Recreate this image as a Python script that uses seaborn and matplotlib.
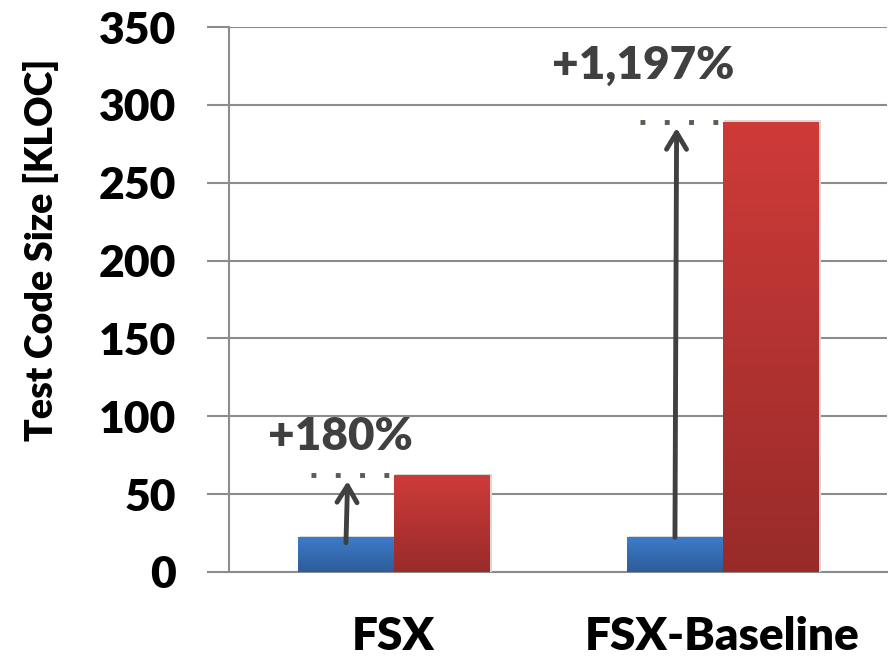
import numpy as np
import pandas as pd
import matplotlib
matplotlib.use("Agg")
import matplotlib.pyplot as plt
import seaborn as sns
from matplotlib.colors import LinearSegmentedColormap

# Data
categories = ["FSX", "FSX-Baseline"]
series = ["Original", "Generated"]
original_kloc = [22.3, 22.3]
generated_kloc = [62.4, 289.2]
increase_labels = ["+180%", "+1,197%"]
y_ticks = [0, 50, 100, 150, 200, 250, 300, 350]

df = pd.DataFrame({
    "category": categories * 2,
    "series": [series[0]] * 2 + [series[1]] * 2,
    "kloc": original_kloc + generated_kloc,
})

sns.set_theme(style="white")
plt.rcParams["font.family"] = ["Lato", "DejaVu Sans"]
plt.rcParams["font.weight"] = "bold"
W = "heavy"

fig = plt.figure(figsize=(8.94, 6.61), dpi=100)
ax = fig.add_axes([229 / 894, 89 / 661, (887 - 229) / 894, (572 - 27) / 661])

palette = {"Original": "#3A76C4", "Generated": "#C73836"}
sns.barplot(data=df, x="category", y="kloc", hue="series", order=categories,
            hue_order=series, palette=palette, width=0.578, gap=0,
            saturation=1, legend=False, ax=ax, zorder=3, linewidth=0)

# vertical gradient fill on each bar
grad = {
    "Original": LinearSegmentedColormap.from_list("b", ["#2E5C98", "#3C7BCB"]),
    "Generated": LinearSegmentedColormap.from_list("r", ["#982B29", "#CE3B39"]),
}
ramp = np.linspace(0, 1, 256).reshape(-1, 1)
for i, patch in enumerate(list(ax.patches)):
    s = series[i // len(categories)]
    x0, y0 = patch.get_x(), patch.get_y()
    w, h = patch.get_width(), patch.get_height()
    # soft drop shadow to the right of each bar
    ax.add_patch(plt.Rectangle((x0 + 0.004, y0), w + 0.006, h + 0.8,
                               color="#D8D8D8", lw=0, zorder=2.9))
    im = ax.imshow(ramp, cmap=grad[s], origin="lower", aspect="auto",
                   extent=[x0, x0 + w, y0, y0 + h], zorder=3.1)
    im.set_clip_path(patch)

ax.set_xlim(-0.5, 1.5)
ax.set_ylim(0, 350)
ax.set_yticks(y_ticks)
ax.set_yticklabels([str(t) for t in y_ticks], fontsize=32, fontweight=W, color="black")
ax.set_xticks([0, 1])
ax.set_xticklabels(categories, fontsize=33, fontweight=W, color="black")
ax.set_xticks([-0.5, 0.5, 1.5], minor=True)
ax.tick_params(axis="x", which="major", length=0, pad=32)
ax.tick_params(axis="x", which="minor", length=16, width=1.5, color="#8C8C8C", direction="out")
ax.tick_params(axis="y", length=16, width=1.5, color="#8C8C8C", direction="out", pad=22, left=True)
ax.set_xlabel("")
ax.set_ylabel("Test Code Size [KLOC]", fontsize=27, fontweight=W, color="black")
ax.yaxis.set_label_coords(-0.258, 0.591)

ax.grid(axis="y", color="#8C8C8C", linewidth=1.5, zorder=0)
ax.set_axisbelow(True)
for side in ["top", "right"]:
    ax.spines[side].set_visible(False)
for side in ["left", "bottom"]:
    ax.spines[side].set_color("#8C8C8C")
    ax.spines[side].set_linewidth(1.5)

# growth arrows and dotted reference lines
half = 0.578 / 2
for i, cat in enumerate(categories):
    bx = i - half / 2
    start = original_kloc[i] if i == 1 else original_kloc[i] - 3.5
    ax.annotate("", xy=(bx + 0.005, generated_kloc[i] - 4), xytext=(bx, start),
                arrowprops=dict(arrowstyle="->,head_length=1.0,head_width=0.6",
                                lw=3.5, color="#404040", shrinkA=0, shrinkB=0),
                zorder=5)
    ax.plot([bx - half / 2 + 0.037, bx + half / 2 - 0.005],
            [generated_kloc[i], generated_kloc[i]],
            linestyle=(0, (1, 4)), lw=3.5, color="#5B5B50",
            solid_capstyle="butt", dash_capstyle="butt", zorder=5)

ax.text(-0.16, 87, increase_labels[0], fontsize=33, fontweight=W,
        color="#404040", ha="center", va="center", zorder=6)
ax.text(0.76, 325, increase_labels[1], fontsize=33, fontweight=W,
        color="#404040", ha="center", va="center", zorder=6)

fig.savefig("out.png", dpi=100)
